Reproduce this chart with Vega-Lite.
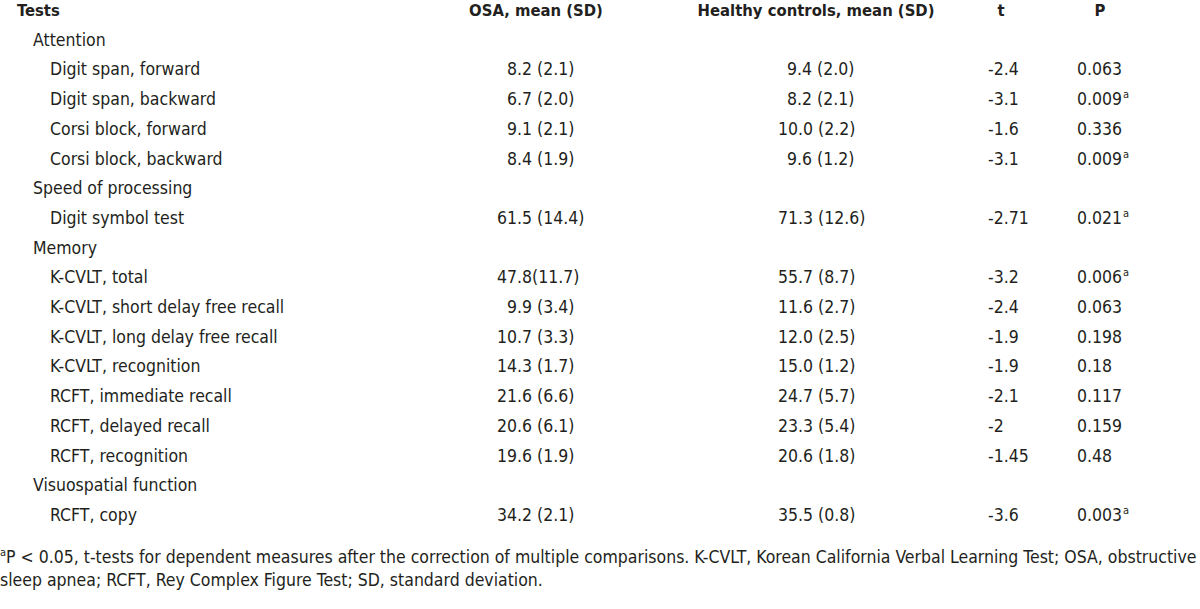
{
  "$schema": "https://vega.github.io/schema/vega-lite/v6.json",
  "width": 1200,
  "height": 609,
  "autosize": {"type": "fit", "contains": "padding"},
  "padding": 0,
  "background": "white",
  "config": {
    "view": {"stroke": null},
    "text": {"font": "DejaVu Sans Condensed, Liberation Sans Narrow, sans-serif", "fontSize": 17.5, "color": "#231f20", "baseline": "alphabetic", "align": "left"}
  },
  "datasets": {
    "rows": [
      {"r": 0, "level": "head", "test": "Tests", "osa": "OSA, mean (SD)", "hc": "Healthy controls, mean (SD)", "t": "t", "p": "P"},
      {"r": 1, "level": "cat", "test": "Attention"},
      {"r": 2, "level": "item", "test": "Digit span, forward", "osa": "8.2 (2.1)", "hc": "9.4 (2.0)", "t": "-2.4", "p": "0.063"},
      {"r": 3, "level": "item", "test": "Digit span, backward", "osa": "6.7 (2.0)", "hc": "8.2 (2.1)", "t": "-3.1", "p": "0.009", "sig": "a"},
      {"r": 4, "level": "item", "test": "Corsi block, forward", "osa": "9.1 (2.1)", "hc": "10.0 (2.2)", "t": "-1.6", "p": "0.336"},
      {"r": 5, "level": "item", "test": "Corsi block, backward", "osa": "8.4 (1.9)", "hc": "9.6 (1.2)", "t": "-3.1", "p": "0.009", "sig": "a"},
      {"r": 6, "level": "cat", "test": "Speed of processing"},
      {"r": 7, "level": "item", "test": "Digit symbol test", "osa": "61.5 (14.4)", "hc": "71.3 (12.6)", "t": "-2.71", "p": "0.021", "sig": "a"},
      {"r": 8, "level": "cat", "test": "Memory"},
      {"r": 9, "level": "item", "test": "K-CVLT, total", "osa": "47.8(11.7)", "hc": "55.7 (8.7)", "t": "-3.2", "p": "0.006", "sig": "a"},
      {"r": 10, "level": "item", "test": "K-CVLT, short delay free recall", "osa": "9.9 (3.4)", "hc": "11.6 (2.7)", "t": "-2.4", "p": "0.063"},
      {"r": 11, "level": "item", "test": "K-CVLT, long delay free recall", "osa": "10.7 (3.3)", "hc": "12.0 (2.5)", "t": "-1.9", "p": "0.198"},
      {"r": 12, "level": "item", "test": "K-CVLT, recognition", "osa": "14.3 (1.7)", "hc": "15.0 (1.2)", "t": "-1.9", "p": "0.18"},
      {"r": 13, "level": "item", "test": "RCFT, immediate recall", "osa": "21.6 (6.6)", "hc": "24.7 (5.7)", "t": "-2.1", "p": "0.117"},
      {"r": 14, "level": "item", "test": "RCFT, delayed recall", "osa": "20.6 (6.1)", "hc": "23.3 (5.4)", "t": "-2", "p": "0.159"},
      {"r": 15, "level": "item", "test": "RCFT, recognition", "osa": "19.6 (1.9)", "hc": "20.6 (1.8)", "t": "-1.45", "p": "0.48"},
      {"r": 16, "level": "cat", "test": "Visuospatial function"},
      {"r": 17, "level": "item", "test": "RCFT, copy", "osa": "34.2 (2.1)", "hc": "35.5 (0.8)", "t": "-3.6", "p": "0.003", "sig": "a"}
    ],
    "notes": [
      {"r": 18, "sup": "a", "text": "P < 0.05, t-tests for dependent measures after the correction of multiple comparisons. K-CVLT, Korean California Verbal Learning Test; OSA, obstructive"},
      {"r": 19, "text": "sleep apnea; RCFT, Rey Complex Figure Test; SD, standard deviation."}
    ]
  },
  "layer": [
    {
      "data": {"name": "rows"},
      "transform": [{"filter": "datum.level == 'head'"}],
      "mark": {"type": "text", "fontWeight": "bold", "fontSize": 16.5},
      "encoding": {
        "x": {"datum": 2, "type": "quantitative", "scale": {"domain": [0,1,2,3,4,5,6,7,8,9,10,11,12,13,14], "range": [0,6,17,33,50,497,507,536,778,787,816,988,1001,1077,1100], "zero": false, "nice": false}, "axis": null},
        "y": {"field": "r", "type": "quantitative", "scale": {"domain": [0,17,18,19], "range": [16,521,563,586], "zero": false, "nice": false}, "axis": null},
        "text": {"field": "test"}
      }
    },
    {
      "data": {"name": "rows"},
      "transform": [{"filter": "datum.level == 'head'"}],
      "mark": {"type": "text", "fontWeight": "bold", "fontSize": 16.5, "align": "center"},
      "encoding": {
        "x": {"datum": 7, "type": "quantitative", "axis": null},
        "y": {"field": "r", "type": "quantitative", "axis": null},
        "text": {"field": "osa"}
      }
    },
    {
      "data": {"name": "rows"},
      "transform": [{"filter": "datum.level == 'head'"}],
      "mark": {"type": "text", "fontWeight": "bold", "fontSize": 16.5, "align": "center"},
      "encoding": {
        "x": {"datum": 10, "type": "quantitative", "axis": null},
        "y": {"field": "r", "type": "quantitative", "axis": null},
        "text": {"field": "hc"}
      }
    },
    {
      "data": {"name": "rows"},
      "transform": [{"filter": "datum.level == 'head'"}],
      "mark": {"type": "text", "fontWeight": "bold", "fontSize": 16.5, "align": "center"},
      "encoding": {
        "x": {"datum": 12, "type": "quantitative", "axis": null},
        "y": {"field": "r", "type": "quantitative", "axis": null},
        "text": {"field": "t"}
      }
    },
    {
      "data": {"name": "rows"},
      "transform": [{"filter": "datum.level == 'head'"}],
      "mark": {"type": "text", "fontWeight": "bold", "fontSize": 16.5, "align": "center"},
      "encoding": {
        "x": {"datum": 14, "type": "quantitative", "axis": null},
        "y": {"field": "r", "type": "quantitative", "axis": null},
        "text": {"field": "p"}
      }
    },
    {
      "data": {"name": "rows"},
      "transform": [{"filter": "datum.level == 'cat'"}],
      "mark": {"type": "text"},
      "encoding": {
        "x": {"datum": 3, "type": "quantitative", "axis": null},
        "y": {"field": "r", "type": "quantitative", "axis": null},
        "text": {"field": "test"}
      }
    },
    {
      "data": {"name": "rows"},
      "transform": [{"filter": "datum.level == 'item'"}],
      "mark": {"type": "text"},
      "encoding": {
        "x": {"datum": 4, "type": "quantitative", "axis": null},
        "y": {"field": "r", "type": "quantitative", "axis": null},
        "text": {"field": "test"}
      }
    },
    {
      "data": {"name": "rows"},
      "transform": [{"filter": "datum.level == 'item' && indexof(datum.osa, '.') != 1"}],
      "mark": {"type": "text"},
      "encoding": {
        "x": {"datum": 5, "type": "quantitative", "axis": null},
        "y": {"field": "r", "type": "quantitative", "axis": null},
        "text": {"field": "osa"}
      }
    },
    {
      "data": {"name": "rows"},
      "transform": [{"filter": "datum.level == 'item' && indexof(datum.osa, '.') == 1"}],
      "mark": {"type": "text"},
      "encoding": {
        "x": {"datum": 6, "type": "quantitative", "axis": null},
        "y": {"field": "r", "type": "quantitative", "axis": null},
        "text": {"field": "osa"}
      }
    },
    {
      "data": {"name": "rows"},
      "transform": [{"filter": "datum.level == 'item' && indexof(datum.hc, '.') != 1"}],
      "mark": {"type": "text"},
      "encoding": {
        "x": {"datum": 8, "type": "quantitative", "axis": null},
        "y": {"field": "r", "type": "quantitative", "axis": null},
        "text": {"field": "hc"}
      }
    },
    {
      "data": {"name": "rows"},
      "transform": [{"filter": "datum.level == 'item' && indexof(datum.hc, '.') == 1"}],
      "mark": {"type": "text"},
      "encoding": {
        "x": {"datum": 9, "type": "quantitative", "axis": null},
        "y": {"field": "r", "type": "quantitative", "axis": null},
        "text": {"field": "hc"}
      }
    },
    {
      "data": {"name": "rows"},
      "transform": [{"filter": "datum.level == 'item'"}],
      "mark": {"type": "text"},
      "encoding": {
        "x": {"datum": 11, "type": "quantitative", "axis": null},
        "y": {"field": "r", "type": "quantitative", "axis": null},
        "text": {"field": "t"}
      }
    },
    {
      "data": {"name": "rows"},
      "transform": [{"filter": "datum.level == 'item'"}],
      "mark": {"type": "text"},
      "encoding": {
        "x": {"datum": 13, "type": "quantitative", "axis": null},
        "y": {"field": "r", "type": "quantitative", "axis": null},
        "text": {"field": "p"}
      }
    },
    {
      "data": {"name": "rows"},
      "transform": [{"filter": "datum.sig != null"}],
      "mark": {"type": "text", "fontSize": 11, "dx": 46, "dy": -7},
      "encoding": {
        "x": {"datum": 13, "type": "quantitative", "axis": null},
        "y": {"field": "r", "type": "quantitative", "axis": null},
        "text": {"field": "sig"}
      }
    },
    {
      "data": {"name": "notes"},
      "transform": [{"filter": "datum.sup != null"}],
      "mark": {"type": "text", "fontSize": 11, "dy": -7},
      "encoding": {
        "x": {"datum": 0, "type": "quantitative", "axis": null},
        "y": {"field": "r", "type": "quantitative", "axis": null},
        "text": {"field": "sup"}
      }
    },
    {
      "data": {"name": "notes"},
      "transform": [{"filter": "datum.r == 18"}],
      "mark": {"type": "text"},
      "encoding": {
        "x": {"datum": 1, "type": "quantitative", "axis": null},
        "y": {"field": "r", "type": "quantitative", "axis": null},
        "text": {"field": "text"}
      }
    },
    {
      "data": {"name": "notes"},
      "transform": [{"filter": "datum.r == 19"}],
      "mark": {"type": "text"},
      "encoding": {
        "x": {"datum": 0, "type": "quantitative", "axis": null},
        "y": {"field": "r", "type": "quantitative", "axis": null},
        "text": {"field": "text"}
      }
    }
  ]
}
